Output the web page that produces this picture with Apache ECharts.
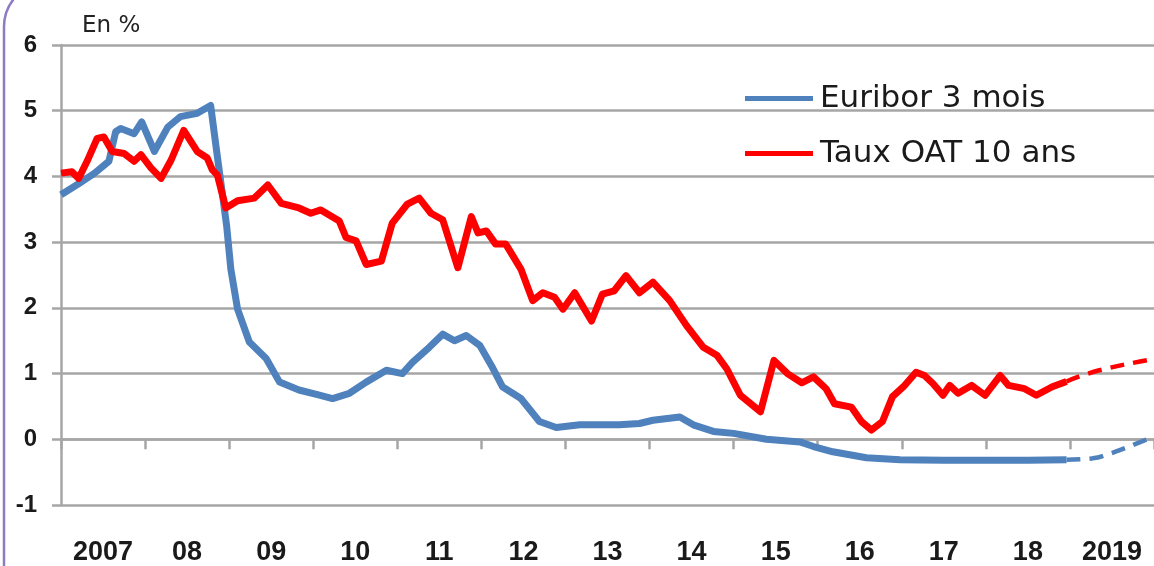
<!DOCTYPE html>
<html>
<head>
<meta charset="utf-8">
<script src="https://cdn.jsdelivr.net/npm/echarts@6/dist/echarts.min.js"></script>
<style>
  html, body { margin: 0; padding: 0; background: #fff; }
  #main { width: 1154px; height: 566px; }
</style>
</head>
<body>
<div id="main"></div>
<script>
// libellés des années (axe du bas)
var years = ["2007", "08", "09", "10", "11", "12", "13", "14", "15", "16", "17", "18", "2019"];

// Euribor 3 mois : [année décimale, taux]
var euribor = [
  [2007.0, 3.72], [2007.2, 3.88], [2007.4, 4.05], [2007.57, 4.23], [2007.65, 4.68],
  [2007.71, 4.73], [2007.87, 4.65], [2007.96, 4.83], [2008.11, 4.38], [2008.27, 4.75],
  [2008.42, 4.91], [2008.62, 4.96], [2008.78, 5.08], [2008.86, 4.3], [2008.97, 3.25],
  [2009.02, 2.59], [2009.1, 1.98], [2009.24, 1.48], [2009.44, 1.23], [2009.6, 0.87],
  [2009.83, 0.75], [2010.05, 0.68], [2010.23, 0.62], [2010.43, 0.7], [2010.63, 0.87],
  [2010.87, 1.05], [2011.06, 1.0], [2011.18, 1.17], [2011.38, 1.4], [2011.54, 1.6],
  [2011.68, 1.5], [2011.82, 1.58], [2011.98, 1.43], [2012.12, 1.12], [2012.25, 0.8],
  [2012.47, 0.62], [2012.69, 0.27], [2012.89, 0.18], [2013.17, 0.22], [2013.4, 0.22],
  [2013.64, 0.22], [2013.88, 0.24], [2014.04, 0.29], [2014.36, 0.34], [2014.52, 0.22],
  [2014.76, 0.12], [2015.0, 0.09], [2015.39, 0.0], [2015.79, -0.04], [2015.95, -0.11],
  [2016.18, -0.19], [2016.58, -0.28], [2016.98, -0.31], [2017.5, -0.32], [2018.0, -0.32],
  [2018.5, -0.32], [2018.96, -0.31]
];

// Taux OAT 10 ans
var oat = [
  [2007.0, 4.05], [2007.13, 4.07], [2007.21, 3.97], [2007.31, 4.23], [2007.43, 4.58],
  [2007.51, 4.6], [2007.61, 4.38], [2007.75, 4.35], [2007.87, 4.23], [2007.95, 4.33],
  [2008.07, 4.13], [2008.19, 3.97], [2008.31, 4.25], [2008.46, 4.7], [2008.62, 4.38],
  [2008.74, 4.28], [2008.8, 4.1], [2008.86, 4.02], [2008.96, 3.52], [2009.1, 3.63],
  [2009.3, 3.67], [2009.46, 3.87], [2009.62, 3.59], [2009.83, 3.52], [2009.97, 3.44],
  [2010.09, 3.49], [2010.31, 3.32], [2010.39, 3.07], [2010.51, 3.02], [2010.63, 2.66],
  [2010.81, 2.71], [2010.94, 3.29], [2011.12, 3.58], [2011.26, 3.67], [2011.4, 3.44],
  [2011.54, 3.34], [2011.72, 2.61], [2011.88, 3.39], [2011.96, 3.14], [2012.06, 3.17],
  [2012.17, 2.97], [2012.29, 2.97], [2012.47, 2.59], [2012.61, 2.11], [2012.73, 2.23],
  [2012.87, 2.16], [2012.97, 1.98], [2013.11, 2.23], [2013.31, 1.8], [2013.44, 2.21],
  [2013.58, 2.26], [2013.72, 2.49], [2013.88, 2.23], [2014.04, 2.39], [2014.24, 2.11],
  [2014.44, 1.73], [2014.64, 1.4], [2014.8, 1.28], [2014.92, 1.07], [2015.08, 0.67],
  [2015.32, 0.42], [2015.48, 1.2], [2015.64, 1.0], [2015.81, 0.86], [2015.95, 0.95],
  [2016.1, 0.77], [2016.2, 0.54], [2016.4, 0.49], [2016.52, 0.27], [2016.64, 0.14],
  [2016.77, 0.27], [2016.89, 0.65], [2017.02, 0.8], [2017.17, 1.02], [2017.27, 0.97],
  [2017.37, 0.85], [2017.49, 0.67], [2017.57, 0.82], [2017.67, 0.7], [2017.83, 0.82],
  [2017.99, 0.67], [2018.17, 0.97], [2018.27, 0.82], [2018.46, 0.77], [2018.6, 0.67],
  [2018.79, 0.8], [2018.96, 0.88]
];

// prévisions (pointillés)
var euriborPrev = [[2018.96, -0.31], [2019.27, -0.29], [2019.45, -0.23], [2019.6, -0.16], [2020.0, 0.04]];
var oatPrev = [[2018.96, 0.88], [2019.35, 1.05], [2020.0, 1.22]];

var blue = "#4f81bd";
var red = "#ff0000";
var grey = "#a6a6a6";

var myChart = echarts.init(document.getElementById("main"));

var option = {
  backgroundColor: "#ffffff",
  animation: false,
  title: {
    text: "En %",
    left: 77,
    top: 10,
    textStyle: { fontFamily: "DejaVu Sans", fontSize: 23, fontWeight: "normal", color: "#222" }
  },
  graphic: [
    {
      type: "rect",
      shape: { x: 4, y: -18, width: 1400, height: 800, r: 45 },
      style: { fill: "none", stroke: "#8e7cc3", lineWidth: 2.5 },
      silent: true
    }
  ],
  legend: {
    orient: "vertical",
    left: 740,
    top: 78,
    icon: "rect",
    itemWidth: 68,
    itemHeight: 5,
    itemGap: 24,
    data: ["Euribor 3 mois", "Taux OAT 10 ans"],
    textStyle: { fontFamily: "DejaVu Sans", fontSize: 31, color: "#1a1a1a", padding: [0, 0, 0, 2] }
  },
  grid: { left: 61, right: 0, top: 45, bottom: 59, containLabel: false },
  xAxis: [
    {
      type: "value",
      min: 2007,
      max: 2020,
      interval: 1,
      position: "bottom",
      axisLine: { onZero: true, lineStyle: { color: grey, width: 2.5 } },
      axisTick: { show: true, length: 10, lineStyle: { color: grey, width: 2.5 } },
      axisLabel: { show: false },
      splitLine: { show: false }
    },
    {
      type: "category",
      data: years,
      position: "bottom",
      boundaryGap: true,
      axisLine: { show: false, onZero: false },
      axisTick: { show: false },
      axisLabel: {
        margin: 34,
        fontFamily: "Liberation Sans",
        fontWeight: "bold",
        fontSize: 27,
        color: "#1a1a1a"
      }
    }
  ],
  yAxis: {
    type: "value",
    min: -1,
    max: 6,
    interval: 1,
    axisLine: { show: true, lineStyle: { color: grey, width: 2.5 } },
    axisTick: { show: true, length: 9, lineStyle: { color: grey, width: 2.5 } },
    axisLabel: {
      margin: 24,
      fontFamily: "Liberation Sans",
      fontWeight: "bold",
      fontSize: 24,
      color: "#1a1a1a"
    },
    splitLine: { show: true, lineStyle: { color: grey, width: 2.5 } }
  },
  series: [
    {
      name: "Euribor 3 mois",
      type: "line",
      xAxisIndex: 0,
      data: euribor,
      symbol: "none",
      lineStyle: { color: blue, width: 7, join: "round" },
      itemStyle: { color: blue },
      z: 3
    },
    {
      name: "Taux OAT 10 ans",
      type: "line",
      xAxisIndex: 0,
      data: oat,
      symbol: "none",
      lineStyle: { color: red, width: 7, join: "round" },
      itemStyle: { color: red },
      z: 4
    },
    {
      name: "Euribor prévision",
      type: "line",
      xAxisIndex: 0,
      data: euriborPrev,
      symbol: "none",
      smooth: true,
      lineStyle: { color: blue, width: 4.5, type: [14, 9] },
      z: 3
    },
    {
      name: "OAT prévision",
      type: "line",
      xAxisIndex: 0,
      data: oatPrev,
      symbol: "none",
      smooth: true,
      lineStyle: { color: red, width: 4.5, type: [14, 9] },
      z: 4
    }
  ]
};

myChart.setOption(option);
</script>
</body>
</html>
